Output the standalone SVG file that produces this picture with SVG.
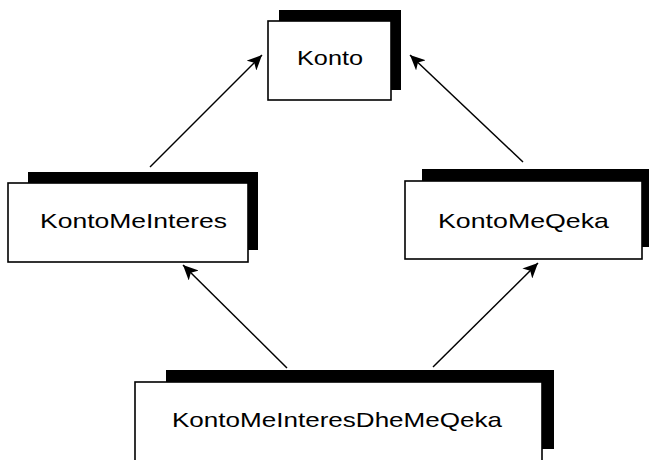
<svg xmlns="http://www.w3.org/2000/svg" width="649" height="460" viewBox="0 0 649 460">
<style>
.shadow{fill:#000;}
.box{fill:#fff;stroke:#000;stroke-width:1.6;}
.lbl{font-family:"Liberation Sans",Arial,sans-serif;font-size:21px;fill:#000;}
.edge{stroke:#000;stroke-width:1.5;fill:none;marker-end:url(#ah);}
</style>
<defs>
<marker id="ah" markerUnits="userSpaceOnUse" markerWidth="16" markerHeight="14" viewBox="0 0 16 14" refX="15" refY="7" orient="auto">
<path d="M0,0 L15,7 L0,14 L4,7 Z" fill="#000"/>
</marker>
</defs>
<rect width="649" height="460" fill="#fff"/>
<g id="connectors">
<line class="edge" x1="150" y1="167" x2="262" y2="55"/>
<line class="edge" x1="523" y1="162" x2="410" y2="55"/>
<line class="edge" x1="287" y1="368" x2="183" y2="265"/>
<line class="edge" x1="433" y1="367" x2="538" y2="263"/>
</g>
<g id="konto">
<rect class="shadow" x="279" y="10" width="122" height="80"/>
<rect class="box" x="268" y="21" width="123" height="79"/>
<text class="lbl" x="297" y="65" textLength="66" lengthAdjust="spacingAndGlyphs">Konto</text>
</g>
<g id="kontoMeInteres">
<rect class="shadow" x="28" y="172" width="230" height="78"/>
<rect class="box" x="8" y="183" width="240" height="79"/>
<text class="lbl" x="40" y="228" textLength="187" lengthAdjust="spacingAndGlyphs">KontoMeInteres</text>
</g>
<g id="kontoMeQeka">
<rect class="shadow" x="422" y="169" width="240" height="78"/>
<rect class="box" x="405" y="181" width="237" height="78"/>
<text class="lbl" x="438" y="228" textLength="171" lengthAdjust="spacingAndGlyphs">KontoMeQeka</text>
</g>
<g id="kontoMeInteresDheMeQeka">
<rect class="shadow" x="166" y="370" width="388" height="79"/>
<rect class="box" x="135" y="382" width="407" height="90"/>
<text class="lbl" x="172" y="427" textLength="330" lengthAdjust="spacingAndGlyphs">KontoMeInteresDheMeQeka</text>
</g>
</svg>
